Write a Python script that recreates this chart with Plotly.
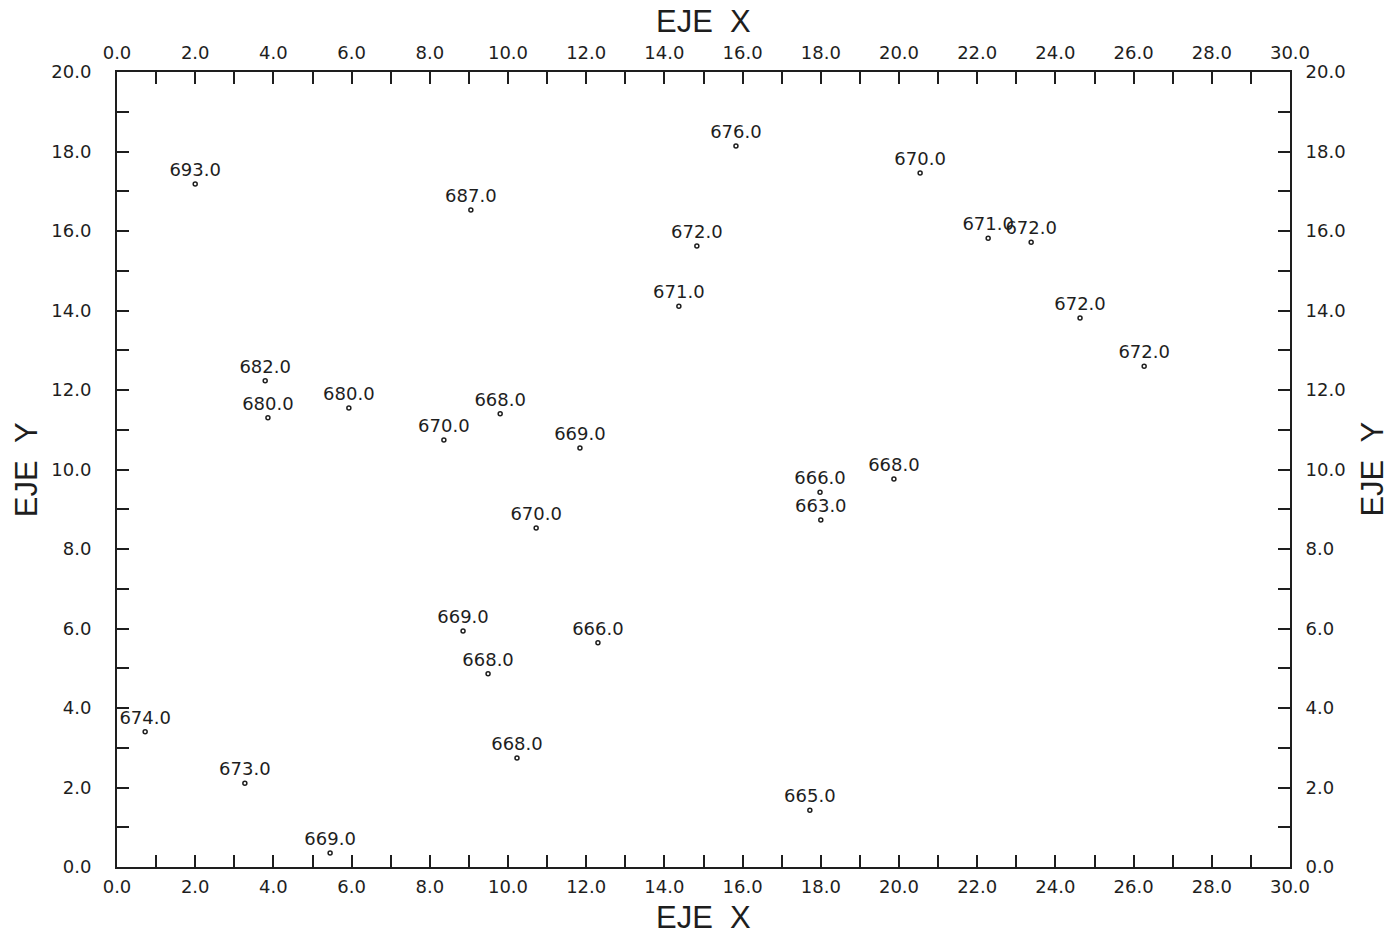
import plotly.graph_objects as go

# Station coordinates and measured values
x_vals = [2.0, 9.05, 15.83, 20.54, 14.83, 14.37, 22.28, 23.38, 24.63, 26.27,
          3.79, 3.86, 5.93, 8.36, 9.80, 11.84, 10.72, 17.98, 18.0, 19.87,
          8.85, 12.30, 9.49, 0.72, 3.27, 10.23, 17.72, 5.45]
y_vals = [17.18, 16.53, 18.14, 17.46, 15.62, 14.11, 15.82, 15.72, 13.81, 12.60,
          12.23, 11.30, 11.55, 10.74, 11.40, 10.54, 8.53, 9.43, 8.73, 9.76,
          5.94, 5.64, 4.86, 3.40, 2.11, 2.74, 1.43, 0.35]
values = [693.0, 687.0, 676.0, 670.0, 672.0, 671.0, 671.0, 672.0, 672.0, 672.0,
          682.0, 680.0, 680.0, 670.0, 668.0, 669.0, 670.0, 666.0, 663.0, 668.0,
          669.0, 666.0, 668.0, 674.0, 673.0, 668.0, 665.0, 669.0]

x_ticks = list(range(0, 31, 2))
y_ticks = list(range(0, 21, 2))

INK = "#1e1e1e"
FONT = "DejaVu Sans"
TITLE_FONT = "Liberation Sans"

fig = go.Figure()
fig.add_trace(go.Scatter(
    x=x_vals, y=y_vals,
    mode="markers+text",
    text=[f"{v:.1f}" for v in values],
    textposition="top center",
    textfont=dict(family=FONT, size=18, color=INK),
    marker=dict(symbol="circle-open", size=4, color=INK, line=dict(width=1.5)),
    cliponaxis=False,
    showlegend=False,
))
# companion trace that binds the top and right axes
fig.add_trace(go.Scatter(x=[None], y=[None], xaxis="x2", yaxis="y2",
                         mode="markers", showlegend=False))

axis_common = dict(
    showline=True, linecolor=INK, linewidth=2,
    ticks="inside", ticklen=12, tickwidth=1.5, tickcolor=INK,
    tickformat=".1f", showgrid=False, zeroline=False,
    tickfont=dict(family=FONT, size=18, color=INK),
    minor=dict(dtick=1, ticks="inside", ticklen=12, tickwidth=1.5, tickcolor=INK),
)

fig.update_layout(
    width=1398, height=936,
    margin=dict(l=117, r=108, t=72, b=69),
    paper_bgcolor="white", plot_bgcolor="white",
    xaxis=dict(range=[0, 30], tickvals=x_ticks, side="bottom", anchor="y",
               ticklabelstandoff=2, **axis_common),
    yaxis=dict(range=[0, 20], tickvals=y_ticks, side="left", anchor="x",
               ticklabelstandoff=20, **axis_common),
    xaxis2=dict(range=[0, 30], tickvals=x_ticks, side="top", overlaying="x",
                anchor="y", ticklabelstandoff=4, **axis_common),
    yaxis2=dict(range=[0, 20], tickvals=y_ticks, side="right", overlaying="y",
                anchor="x", ticklabelstandoff=10, **axis_common),
)

# axis titles on all four sides
title_font = dict(family=TITLE_FONT, size=31, color=INK)
xt = "EJE\u00a0\u00a0X"
yt = "EJE\u00a0\u00a0Y"
for x, y, txt, ang in [(0.5, -0.063, xt, 0), (0.5, 1.063, xt, 0),
                       (-0.077, 0.5, yt, -90), (1.07, 0.5, yt, -90)]:
    fig.add_annotation(x=x, y=y, xref="paper", yref="paper", text=txt,
                       textangle=ang, showarrow=False, font=title_font,
                       xanchor="center", yanchor="middle")

fig.write_html("out.html")
